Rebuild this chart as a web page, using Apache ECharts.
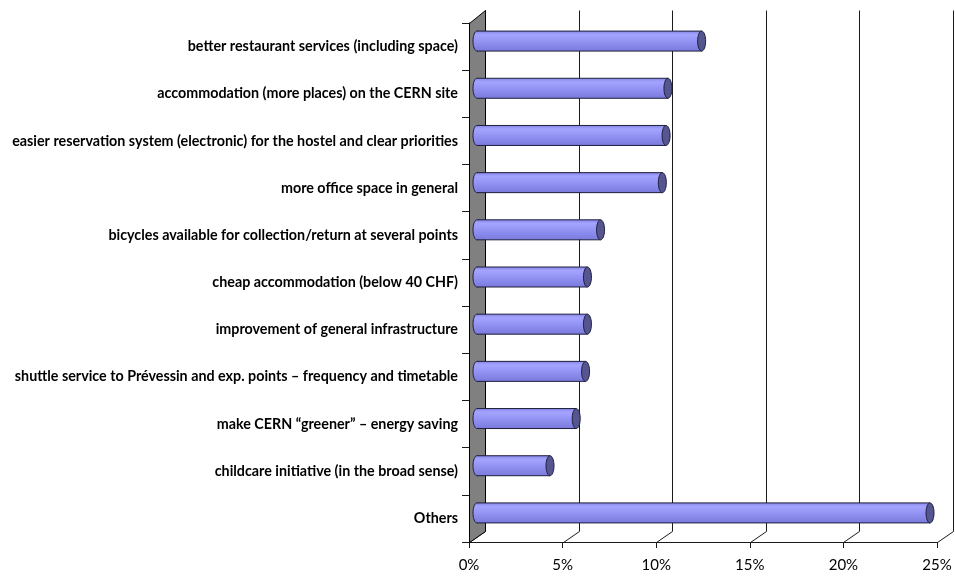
<!DOCTYPE html>
<html>
<head>
<meta charset="utf-8">
<script src="https://cdn.jsdelivr.net/npm/echarts@6/dist/echarts.min.js"></script>
<style>html,body{margin:0;padding:0;background:#fff}#c{width:955px;height:579px}</style>
</head>
<body>
<div id="c"></div>
<script>
const categories = [
  'better restaurant services (including space)',
  'accommodation (more places) on the CERN site',
  'easier reservation system (electronic) for the hostel and clear priorities',
  'more office space in general',
  'bicycles available for collection/return at several points',
  'cheap accommodation (below 40 CHF)',
  'improvement of general infrastructure',
  'shuttle service to Prévessin and exp. points – frequency and timetable',
  'make CERN “greener” – energy saving',
  'childcare initiative (in the broad sense)',
  'Others'
];
const values = [12.0, 10.2, 10.1, 9.9, 6.6, 5.9, 5.9, 5.8, 5.3, 3.9, 24.2];
const xTicks = [0, 5, 10, 15, 20, 25];

const DX = 16, DY = 11, DYT = 13; // depth offsets (style)
const BDX = 8, BDY = 5.5;          // bar half-depth offsets (style)

function ellipsePts(cx, cy, rx, ry) {
  const pts = [];
  for (let i = 0; i < 40; i++) {
    const a = i / 40 * Math.PI * 2;
    pts.push([cx + rx * Math.cos(a), cy + ry * Math.sin(a)]);
  }
  return pts;
}

function renderFrame(params, api) {
  const cs = params.coordSys;
  const left = Math.round(cs.x) + 0.5;
  const top = Math.round(cs.y) + 0.5;
  const bottom = Math.round(cs.y + cs.height) + 0.5;
  const children = [];
  xTicks.forEach(function (v) {
    const x = Math.round(api.coord([v, 0])[0]) + 0.5;
    children.push({
      type: 'polyline',
      shape: { points: [[x, bottom], [x + DX, bottom - DY], [x + DX, top - DYT]] },
      style: { stroke: '#1a1a1a', fill: null, lineWidth: 1 }
    });
  });
  children.push({
    type: 'polygon',
    shape: { points: [[left, top], [left + DX, top - DYT], [left + DX, bottom - DY], [left, bottom]] },
    style: { fill: '#808080', stroke: '#000', lineWidth: 1 }
  });
  return { type: 'group', children: children };
}

function bodyFill() {
  return new echarts.graphic.LinearGradient(0, 0, 0, 1, [
    { offset: 0, color: '#8686e6' },
    { offset: 0.18, color: '#a4a4ff' },
    { offset: 0.55, color: '#9191f2' },
    { offset: 1, color: '#7a7adc' }
  ]);
}

function renderBar(params, api) {
  const idx = api.value(1);
  const v = api.value(0);
  const p0 = api.coord([0, idx]);
  const p1 = api.coord([v, idx]);
  const band = api.size([0, 1])[1];
  const h = Math.round(band * 0.42);
  const cy = p0[1] - BDY;
  const x0 = p0[0] + BDX;
  const x1 = p1[0] + BDX;
  const rx = 4, ry = h / 2;
  const stroke = '#1e1e3c';
  return {
    type: 'group',
    children: [
      { type: 'polygon', shape: { points: ellipsePts(x0, cy, rx, ry) },
        style: { fill: bodyFill(), stroke: stroke, lineWidth: 1 } },
      { type: 'rect', shape: { x: x0, y: cy - ry, width: x1 - x0, height: h },
        style: { fill: bodyFill() } },
      { type: 'line', shape: { x1: x0, y1: cy - ry, x2: x1, y2: cy - ry },
        style: { stroke: stroke, lineWidth: 1 } },
      { type: 'line', shape: { x1: x0, y1: cy + ry, x2: x1, y2: cy + ry },
        style: { stroke: stroke, lineWidth: 1 } },
      { type: 'polygon', shape: { points: ellipsePts(x1, cy, rx, ry) },
        style: { fill: '#55558f', stroke: stroke, lineWidth: 1 } }
    ]
  };
}

const chart = echarts.init(document.getElementById('c'), null, { renderer: 'canvas' });
chart.setOption({
  animation: false,
  backgroundColor: '#ffffff',
  grid: { left: 469, right: 18, top: 23, bottom: 37, containLabel: false },
  xAxis: {
    type: 'value', min: 0, max: 25, interval: 5,
    axisLine: { show: true, lineStyle: { color: '#1a1a1a', width: 1 } },
    axisTick: { show: true, length: 6, lineStyle: { color: '#1a1a1a' } },
    splitLine: { show: false },
    axisLabel: { formatter: '{value}%', color: '#000', fontFamily: 'Lato', fontSize: 15, margin: 16 }
  },
  yAxis: {
    type: 'category', data: categories, inverse: true,
    axisLine: { show: true, lineStyle: { color: '#000', width: 1 } },
    axisTick: { show: true, length: 7, lineStyle: { color: '#1a1a1a' } },
    splitLine: { show: false },
    axisLabel: { color: '#000', fontFamily: 'Lato', fontWeight: 'bold', fontSize: 14.3, margin: 11 }
  },
  series: [
    { type: 'custom', renderItem: renderFrame, data: [[0, 0]], z: 1, silent: true, clip: false },
    { type: 'custom', renderItem: renderBar, data: values.map(function (v, i) { return [v, i]; }),
      encode: { x: 0, y: 1 }, z: 3, silent: true, clip: false }
  ]
});
</script>
</body>
</html>
